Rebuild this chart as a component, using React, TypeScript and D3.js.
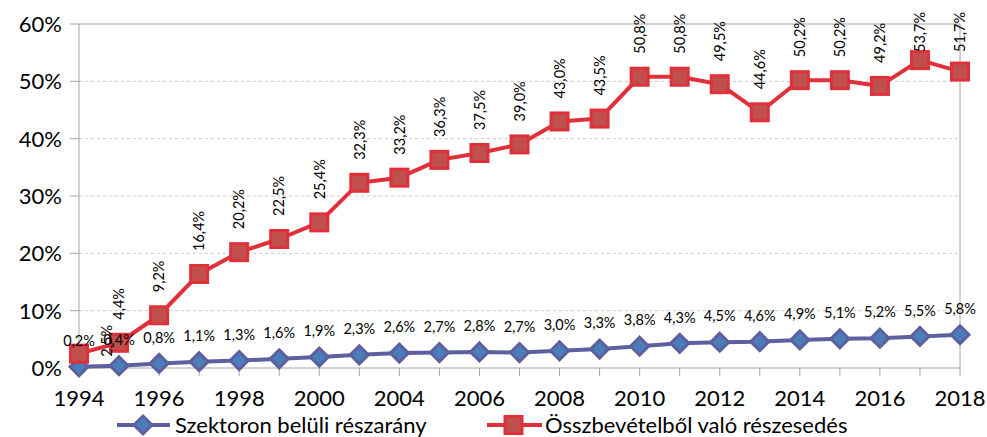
import React from "react";
import * as d3 from "d3";

const categories = ["1994","1995","1996","1997","1998","1999","2000","2002","2004","2005","2006","2007","2008","2009","2010","2011","2012","2013","2014","2015","2016","2017","2018"];
const tickLabels = ["1994","1996","1998","2000","2004","2006","2008","2010","2012","2014","2016","2018"];
const yTicks = [0, 10, 20, 30, 40, 50, 60];
const seriesNames = ["Szektoron belüli részarány", "Összbevételből való részesedés"];
const sectorShare = [0.2,0.4,0.8,1.1,1.3,1.6,1.9,2.3,2.6,2.7,2.8,2.7,3.0,3.3,3.8,4.3,4.5,4.6,4.9,5.1,5.2,5.5,5.8];
const revenueShare = [2.5,4.4,9.2,16.4,20.2,22.5,25.4,32.3,33.2,36.3,37.5,39.0,43.0,43.5,50.8,50.8,49.5,44.6,50.2,50.2,49.2,53.7,51.7];
const fmt = (v: number) => v.toFixed(1).replace(".", ",") + "%";

const W = 987, H = 437;
const FONT = "Lato, 'Open Sans', sans-serif";
const BLUE_LINE = "#5d5f9f";
const BLUE_FILL = "#4a7ebb";
const RED_LINE = "#e0303a";
const RED_FILL = "#c0504d";
const LABEL_SIZE = 14.5;

export default function App() {
  const x = d3.scalePoint<string>().domain(categories).range([79, 960]);
  const y = d3.scaleLinear().domain([0, 60]).range([368, 24]);
  const line = d3.line<number>().x((_, i) => x(categories[i])!).y((d) => y(d));

  const diamond = (cx: number, cy: number, r: number) =>
    `M${cx},${cy - r}L${cx + r},${cy}L${cx},${cy + r}L${cx - r},${cy}Z`;

  return (
    <svg width={W} height={H} style={{ position: "absolute", left: 0, top: 0, fontFamily: FONT }}>
      <rect width={W} height={H} fill="#fff" />
      {yTicks.map((t) => (
        <line key={t} x1={79} x2={960} y1={y(t)} y2={y(t)}
          stroke={t === 60 || t === 0 ? "#a6a6a6" : "#c8c8c8"}
          strokeWidth={1}
          strokeDasharray={t === 60 || t === 0 ? undefined : "3,3"} />
      ))}
      {yTicks.map((t) => (
        <line key={"yt" + t} x1={70} x2={79} y1={y(t)} y2={y(t)} stroke="#a6a6a6" />
      ))}
      <line x1={79} x2={79} y1={24} y2={368} stroke="#a6a6a6" />
      <line x1={960} x2={960} y1={24} y2={368} stroke="#a6a6a6" />
      {categories.map((c) => (
        <line key={"xt" + c} x1={x(c)!} x2={x(c)!} y1={368} y2={376} stroke="#a6a6a6" />
      ))}
      {yTicks.map((t) => (
        <text key={"yl" + t} x={62} y={y(t)} dy="0.36em" textAnchor="end" fontSize={22} fill="#000">{t}%</text>
      ))}
      {tickLabels.map((c) => (
        <text key={"xl" + c} x={x(c)!} y={398} dy="0.36em" textAnchor="middle" fontSize={22} fill="#000">{c}</text>
      ))}
      <path d={line(sectorShare)!} fill="none" stroke={BLUE_LINE} strokeWidth={4} strokeLinejoin="round" />
      {sectorShare.map((v, i) => (
        <path key={"bd" + i} d={diamond(x(categories[i])!, y(v), 9)} fill={BLUE_FILL} stroke={BLUE_LINE} strokeWidth={3} />
      ))}
      <path d={line(revenueShare)!} fill="none" stroke={RED_LINE} strokeWidth={4} strokeLinejoin="round" />
      {revenueShare.map((v, i) => (
        <rect key={"rs" + i} x={x(categories[i])! - 8.5} y={y(v) - 8.5} width={17} height={17} fill={RED_FILL} stroke={RED_LINE} strokeWidth={3} />
      ))}
      {sectorShare.map((v, i) => (
        <text key={"bl" + i} x={x(categories[i])!} y={y(v) - 26} dy="0.36em" textAnchor="middle" fontSize={LABEL_SIZE} fill="#000">{fmt(v)}</text>
      ))}
      {revenueShare.map((v, i) => {
        const cx = x(categories[i])! + (i === 0 ? 28 : 0);
        let cy = i === 0 ? y(v) + 3 : y(v) - 23;
        const len = 39;
        if (cy - len < 13) cy = 13 + len;
        return (
          <text key={"rl" + i} transform={`translate(${cx},${cy}) rotate(-90)`} dy="0.36em" textAnchor="start" fontSize={LABEL_SIZE} fill="#000">{fmt(v)}</text>
        );
      })}
      <g>
        <line x1={117} x2={170} y1={425} y2={425} stroke={BLUE_LINE} strokeWidth={4} />
        <path d={diamond(143, 425, 9)} fill={BLUE_FILL} stroke={BLUE_LINE} strokeWidth={3} />
        <text x={175} y={425} dy="0.36em" fontSize={22} fill="#000">{seriesNames[0]}</text>
        <line x1={487} x2={542} y1={425} y2={425} stroke={RED_LINE} strokeWidth={4} />
        <rect x={505} y={416.5} width={17} height={17} fill={RED_FILL} stroke={RED_LINE} strokeWidth={3} />
        <text x={545} y={425} dy="0.36em" fontSize={22} fill="#000">{seriesNames[1]}</text>
      </g>
    </svg>
  );
}
